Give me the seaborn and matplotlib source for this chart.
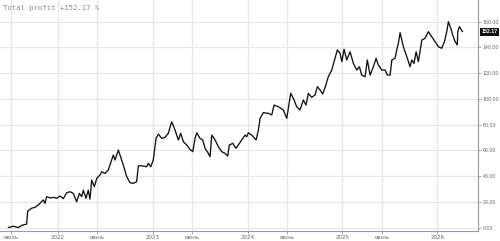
import matplotlib
matplotlib.use("Agg")
import matplotlib.pyplot as plt
import seaborn as sns
import pandas as pd

# time in fractional years, profit in %
t_years = [2021.480, 2021.532, 2021.585, 2021.621, 2021.673, 2021.684, 2021.726, 2021.761, 2021.796, 2021.813,
           2021.848, 2021.866, 2021.884, 2021.919, 2021.954, 2021.989, 2022.024, 2022.059, 2022.095, 2022.130,
           2022.164, 2022.200, 2022.228, 2022.253, 2022.270, 2022.298, 2022.322, 2022.340, 2022.358, 2022.386,
           2022.411, 2022.446, 2022.464, 2022.498, 2022.533, 2022.562, 2022.586, 2022.604, 2022.639, 2022.656,
           2022.691, 2022.727, 2022.762, 2022.797, 2022.832, 2022.849, 2022.885, 2022.938, 2022.955, 2022.980,
           2023.007, 2023.036, 2023.060, 2023.096, 2023.131, 2023.165, 2023.201, 2023.236, 2023.271, 2023.296,
           2023.324, 2023.359, 2023.394, 2023.423, 2023.447, 2023.465, 2023.499, 2023.528, 2023.552, 2023.587,
           2023.605, 2023.623, 2023.658, 2023.692, 2023.728, 2023.763, 2023.791, 2023.808, 2023.844, 2023.879,
           2023.903, 2023.939, 2023.974, 2023.992, 2024.008, 2024.044, 2024.090, 2024.114, 2024.132, 2024.166,
           2024.219, 2024.255, 2024.279, 2024.325, 2024.377, 2024.413, 2024.455, 2024.483, 2024.518, 2024.553,
           2024.588, 2024.616, 2024.641, 2024.676, 2024.711, 2024.736, 2024.764, 2024.792, 2024.817, 2024.851,
           2024.887, 2024.922, 2024.946, 2024.975, 2024.993, 2025.017, 2025.045, 2025.080, 2025.115, 2025.151,
           2025.178, 2025.203, 2025.238, 2025.262, 2025.291, 2025.326, 2025.354, 2025.378, 2025.414, 2025.449,
           2025.473, 2025.502, 2025.520, 2025.554, 2025.572, 2025.589, 2025.607, 2025.625, 2025.642, 2025.678,
           2025.712, 2025.730, 2025.754, 2025.776, 2025.800, 2025.836, 2025.870, 2025.905, 2025.941, 2025.976,
           2026.011, 2026.046, 2026.074, 2026.099, 2026.116, 2026.141, 2026.162, 2026.187, 2026.210, 2026.215,
           2026.232, 2026.257, 2026.266]
profit = [0.0, 1.0, 0.0, 1.7, 2.7, 12.8, 15.0, 15.7, 17.5, 18.8,
          21.4, 18.8, 24.0, 23.0, 23.4, 22.7, 24.5, 22.4, 27.0, 27.8,
          26.5, 20.0, 26.5, 24.0, 29.0, 22.7, 29.0, 22.0, 36.9, 31.7,
          38.2, 40.8, 43.3, 42.0, 44.7, 51.1, 56.3, 52.4, 60.2, 56.3,
          48.5, 39.5, 34.8, 34.3, 35.6, 47.8, 48.0, 47.2, 49.9, 47.2,
          52.4, 69.3, 72.6, 69.3, 70.0, 73.2, 82.2, 75.7, 68.0, 73.2,
          66.6, 64.1, 60.7, 58.9, 69.3, 73.6, 69.3, 68.0, 61.5, 57.6,
          55.0, 71.8, 68.0, 62.8, 58.9, 57.6, 55.5, 64.1, 65.4, 61.5,
          64.1, 68.0, 71.8, 70.5, 73.6, 71.8, 68.0, 75.7, 84.8, 89.2,
          88.7, 87.4, 95.1, 93.8, 91.3, 84.8, 104.2, 100.3, 93.8, 91.3,
          99.0, 95.1, 104.2, 101.1, 102.9, 109.4, 106.8, 103.7, 108.9, 117.1,
          122.3, 131.4, 137.9, 135.3, 128.8, 138.4, 130.1, 136.5, 127.5, 122.3,
          124.9, 118.4, 117.1, 130.1, 118.4, 124.9, 131.4, 126.2, 122.3, 122.3,
          118.4, 118.4, 130.1, 131.4, 137.9, 143.1, 151.3, 145.6, 140.4, 132.7,
          124.9, 130.1, 127.5, 136.5, 128.8, 145.6, 146.9, 152.1, 148.2, 144.3,
          140.4, 139.2, 144.3, 152.1, 159.8, 154.7, 149.5, 144.3, 141.8, 152.1,
          156.0, 152.9, 152.17]

y_ticks = [0, 20, 40, 60, 80, 100, 120, 140, 160]
x_ticks = [2021.505, 2022.0, 2022.414, 2023.0, 2023.414, 2024.0, 2024.414, 2025.0, 2025.414, 2026.0]
x_labels = ["июль", "2022", "июнь", "2023", "июнь", "2024", "июнь", "2025", "июнь", "2026"]
title_text = "Total profit +152.17 %"
last_value = 152.17

df = pd.DataFrame({"t": t_years, "profit": profit})

sns.set_theme(style="white")
plt.rcParams["font.family"] = ["DejaVu Sans"]
narrow = ["Liberation Sans Narrow", "Liberation Sans", "DejaVu Sans"]

fig = plt.figure(figsize=(5.0, 2.41), dpi=100)
ax = fig.add_axes([0.0, 10 / 241, 478 / 500, 231 / 241])

sns.lineplot(data=df, x="t", y="profit", ax=ax, color="#111111", linewidth=0.95)

ax.set_xlim(2021.392, 2026.428)
ax.set_ylim(-2.7, 176.7)
ax.set_xticks(x_ticks)
ax.set_xticklabels(x_labels)
ax.set_yticks(y_ticks)
ax.set_yticklabels([f"{v:.2f}" for v in y_ticks])
ax.yaxis.tick_right()
ax.set_xlabel("")
ax.set_ylabel("")
for lab in ax.get_yticklabels():
    lab.set_family(narrow)

ax.grid(True, color="#e6e6e6", linewidth=0.9)
ax.set_axisbelow(True)
for s in ["top", "left"]:
    ax.spines[s].set_visible(False)
for s in ["right", "bottom"]:
    ax.spines[s].set_color("#9a9aa6")
    ax.spines[s].set_linewidth(0.8)

ax.tick_params(axis="y", which="both", right=True, left=False, length=2.5, width=0.6,
               color="#9a9aa6", labelsize=3.8, labelcolor="#666666", pad=0.7)
ax.tick_params(axis="x", which="both", bottom=True, length=2, width=0.6,
               color="#9a9aa6", labelsize=4.0, labelcolor="#666666", pad=1)

ax.text(0.006, 0.965, title_text, transform=ax.transAxes, ha="left", va="center",
        family="DejaVu Sans Mono", fontsize=5.2, color="#8a8a8a")

ax.annotate(f"{last_value:.2f}", xy=(1.0, last_value), xycoords=("axes fraction", "data"),
            xytext=(2.4, 0), textcoords="offset points", ha="left", va="center",
            fontsize=3.8, color="white", fontweight="bold", family=narrow,
            bbox=dict(boxstyle="square,pad=0.3", fc="#111111", ec="none"),
            annotation_clip=False)

fig.savefig("out.png", dpi=100)
